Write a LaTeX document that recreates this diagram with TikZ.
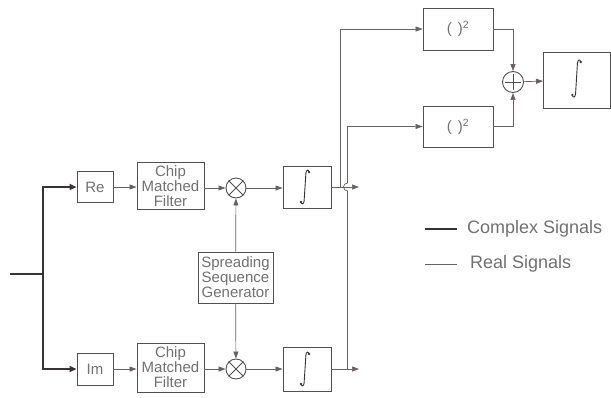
\documentclass[tikz,border=0pt]{standalone}
\usepackage{fontspec}
\setmainfont{Liberation Sans}
\usetikzlibrary{arrows.meta,calc}
\definecolor{txt}{HTML}{707070}
\definecolor{ln}{HTML}{6A6060}
\definecolor{bx}{HTML}{505050}
\definecolor{thk}{HTML}{3A3333}
\tikzset{
  blk/.style={draw=bx, line width=0.9pt, text=txt, inner sep=0pt, align=center, font=\fontsize{15}{15}\selectfont},
  circ/.style={draw=bx, line width=0.9pt, circle, minimum size=20pt, inner sep=0pt},
  sig/.style={draw=ln, line width=0.7pt},
  arr/.style={sig, -{Triangle[length=7pt,width=5pt]}},
  cplx/.style={draw=thk, line width=2.3pt},
  carr/.style={cplx, -{Triangle[length=7pt,width=6pt]}},
  intsym/.style={draw=thk, line width=0.9pt, line cap=round},
  legtxt/.style={anchor=west, text=txt, font=\fontsize{18}{18}\selectfont, inner sep=0pt},
}
\newcommand{\myintegral}[3]{%
  \begin{scope}[shift={(#1)}, x=#2pt, y=#3pt]
    \draw[intsym] (4,15) .. controls (3.6,17.6) and (1.2,17.6) .. (0.9,14) -- (-0.9,-14) .. controls (-1.2,-17.6) and (-3.6,-17.6) .. (-4,-15);
    \fill[thk] (4,15) circle[radius=1.3pt] (-4,-15) circle[radius=1.3pt];
  \end{scope}}
\begin{document}
\begin{tikzpicture}[x=1pt,y=1pt]
\useasboundingbox (0,0) rectangle (611,-397);
% top row
\node[blk, minimum width=36pt, minimum height=31pt] (re) at (95,-187) {Re};
\node[blk, minimum width=67pt, minimum height=47pt] (cmf1) at (170.5,-186) {Chip\\Matched\\Filter};
\node[circ] (m1) at (236,-188) {};
\draw[bx, line width=0.9pt] (m1.north west) -- (m1.south east) (m1.north east) -- (m1.south west);
\node[blk, minimum width=48pt, minimum height=42pt] (int1) at (307,-187) {};
\myintegral{305,-187}{1}{1}
% middle
\node[blk, minimum width=75pt, minimum height=51pt] (ssg) at (235.5,-277.5) {Spreading\\Sequence\\Generator};
% bottom row
\node[blk, minimum width=36pt, minimum height=32pt] (im) at (95,-369) {Im};
\node[blk, minimum width=67pt, minimum height=49pt] (cmf2) at (170.5,-367.5) {Chip\\Matched\\Filter};
\node[circ] (m2) at (236,-369) {};
\draw[bx, line width=0.9pt] (m2.north west) -- (m2.south east) (m2.north east) -- (m2.south west);
\node[blk, minimum width=48pt, minimum height=44pt] (int2) at (307,-369) {};
\myintegral{305,-369}{1}{1}
% right part
\node[blk, minimum width=70pt, minimum height=42pt] (sq1) at (458,-29) {(\hspace{6pt})\textsuperscript{2}};
\node[blk, minimum width=70pt, minimum height=41pt] (sq2) at (458,-126.5) {(\hspace{6pt})\textsuperscript{2}};
\node[circ, minimum size=21pt] (plus) at (513,-82) {};
\draw[bx, line width=0.9pt] ($(plus.north)+(0,-3)$) -- ($(plus.south)+(0,3)$) ($(plus.west)+(3,0)$) -- ($(plus.east)+(-3,0)$);
\node[blk, minimum width=67pt, minimum height=56pt] (int3) at (577,-80) {};
\myintegral{576.5,-78.5}{1.05}{1.1}
% complex input
\coordinate (in) at (10,-274);
\coordinate (split) at (43,-274);
\draw[cplx] (in) -- (split);
\draw[carr] (split) |- (re);
\draw[carr] (split) |- (im);
% real signals
\draw[arr] (re) -- (cmf1.west |- re);
\draw[arr] (cmf1.east |- m1) -- (m1);
\draw[arr] (m1) -- (int1.west |- m1);
\draw[arr] (im) -- (cmf2.west |- im);
\draw[arr] (cmf2.east |- m2) -- (m2);
\draw[arr] (m2) -- (int2);
\draw[arr] (ssg) -- (m1);
\draw[arr] (ssg) -- (m2);
\coordinate (o1) at (359,-187);
\coordinate (o2) at (359,-369);
\draw[arr] (int1) -- (o1);
\draw[arr] (int2) -- (o2);
\coordinate (b1) at (340,-187);
\coordinate (b2) at (347.5,-369);
\draw[arr] (b1) |- (sq1);
\draw[arr] (b2) -- (347.5,-191) arc[start angle=270, end angle=90, radius=4] |- (sq2);
\draw[arr] (sq1) -| (plus);
\draw[arr] (sq2) -| (plus);
\draw[arr] (plus) -- (int3);
% legend
\coordinate (l1a) at (425,-229);
\coordinate (l1b) at (457,-229);
\coordinate (l2a) at (425,-264);
\coordinate (l2b) at (457,-264);
\draw[cplx] (l1a) -- (l1b);
\draw[sig] (l2a) -- (l2b);
\node[legtxt] (lt1) at (467,-229) {Complex Signals};
\node[legtxt] (lt2) at (470,-264) {Real Signals};
\end{tikzpicture}
\end{document}
